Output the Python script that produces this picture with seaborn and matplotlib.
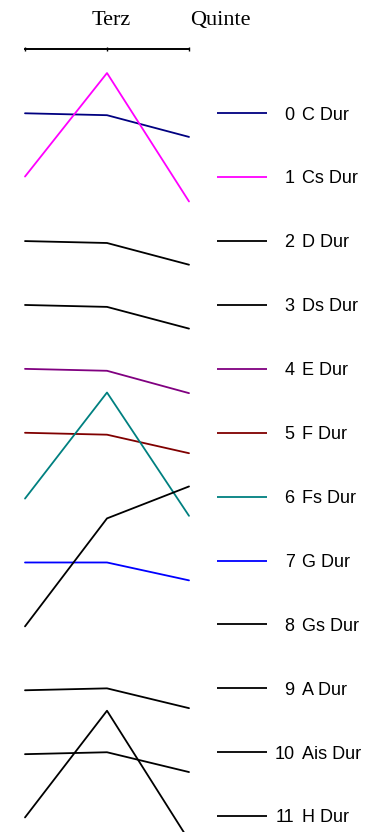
import numpy as np
import pandas as pd
import matplotlib
matplotlib.use("Agg")
import matplotlib.pyplot as plt
import seaborn as sns
from matplotlib.transforms import offset_copy, blended_transform_factory

# ---------------- data ----------------
steps = ["Grundton", "Terz", "Quinte"]
step_labels = ["", "Terz", "Quinte"]
key_numbers = list(range(12))
key_names = ["C Dur", "Cs Dur", "D Dur", "Ds Dur", "E Dur", "F Dur",
             "Fs Dur", "G Dur", "Gs Dur", "A Dur", "Ais Dur", "H Dur"]
key_colors = ["#000080", "#ff00ff", "#000000", "#000000", "#800080", "#800000",
              "#008080", "#0000ff", "#000000", "#000000", "#000000", "#000000"]
# relative level of each key (up = positive), in units of one row
level_grundton = [0.00, 0.01, 0.00, 0.00, 0.00, 0.00, -0.03, -0.03, -0.03, -0.03, -0.03, -0.02]
level_terz     = [-0.03, 1.63, -0.03, -0.03, -0.03, -0.03, 1.63, -0.03, 1.66, 0.00, 0.00, 1.65]
level_quinte   = [-0.37, -0.38, -0.37, -0.37, -0.38, -0.32, -0.30, -0.31, 2.16, -0.31, -0.31, -0.38]

rows = []
for n, name in zip(key_numbers, key_names):
    for si, lev in enumerate([level_grundton[n], level_terz[n], level_quinte[n]]):
        rows.append({"key": name, "step": si, "pos": n - lev})
df = pd.DataFrame(rows)

# ---------------- figure ----------------
sns.set_style("white")
W, H = 368, 832
fig = plt.figure(figsize=(W / 100, H / 100), dpi=100)

ylim = (11.248, -1.006)
ax = fig.add_axes([25 / W, 0, 164 / W, 783 / H])
sns.lineplot(data=df, x="step", y="pos", hue="key", hue_order=key_names,
             palette=dict(zip(key_names, key_colors)), linewidth=1.3,
             estimator=None, sort=False, legend=False, ax=ax)
for ln in ax.lines:
    ln.set_clip_on(False)
ax.set_xlim(0, 2)
ax.set_ylim(*ylim)
for s in ["left", "right", "bottom"]:
    ax.spines[s].set_visible(False)
ax.spines["top"].set_linewidth(1.4)
ax.spines["top"].set_color("black")
ax.xaxis.tick_top()
ax.set_xticks(range(len(steps)))
ax.set_xticklabels([])
ax.tick_params(axis="x", direction="inout", length=3, width=1, color="black")
ax.set_yticks([])
ax.set_xlabel("")
ax.set_ylabel("")

# column labels above top axis
label_dx = [0, -15, 1]  # pixel shift of left edge from tick
for i, lab in enumerate(step_labels):
    if lab:
        tr = offset_copy(blended_transform_factory(ax.transData, fig.transFigure),
                         fig=fig, x=label_dx[i], y=0, units="dots")
        ax.text(i, 1 - 25 / H, lab, transform=tr, ha="left", va="baseline",
                fontsize=16, family="Liberation Serif", color="black")

# legend column
ax2 = fig.add_axes([217 / W, 0, 50 / W, 783 / H])
ax2.set_xlim(0, 1)
ax2.set_ylim(*ylim)
ax2.axis("off")
ax2.hlines(key_numbers, 0, 1, colors=key_colors, linewidth=1.3, clip_on=False)

base = blended_transform_factory(fig.transFigure, ax2.transData)
tr_txt = offset_copy(base, fig=fig, x=0, y=-6.3, units="dots")
for n, name in zip(key_numbers, key_names):
    ax2.text(294.5 / W, n, str(n), transform=tr_txt, ha="right", va="baseline",
             fontsize=13, family="Liberation Sans", color="black")
    ax2.text(302 / W, n, name, transform=tr_txt, ha="left", va="baseline",
             fontsize=13, family="Liberation Sans", color="black")

fig.savefig("out.png", dpi=100)
